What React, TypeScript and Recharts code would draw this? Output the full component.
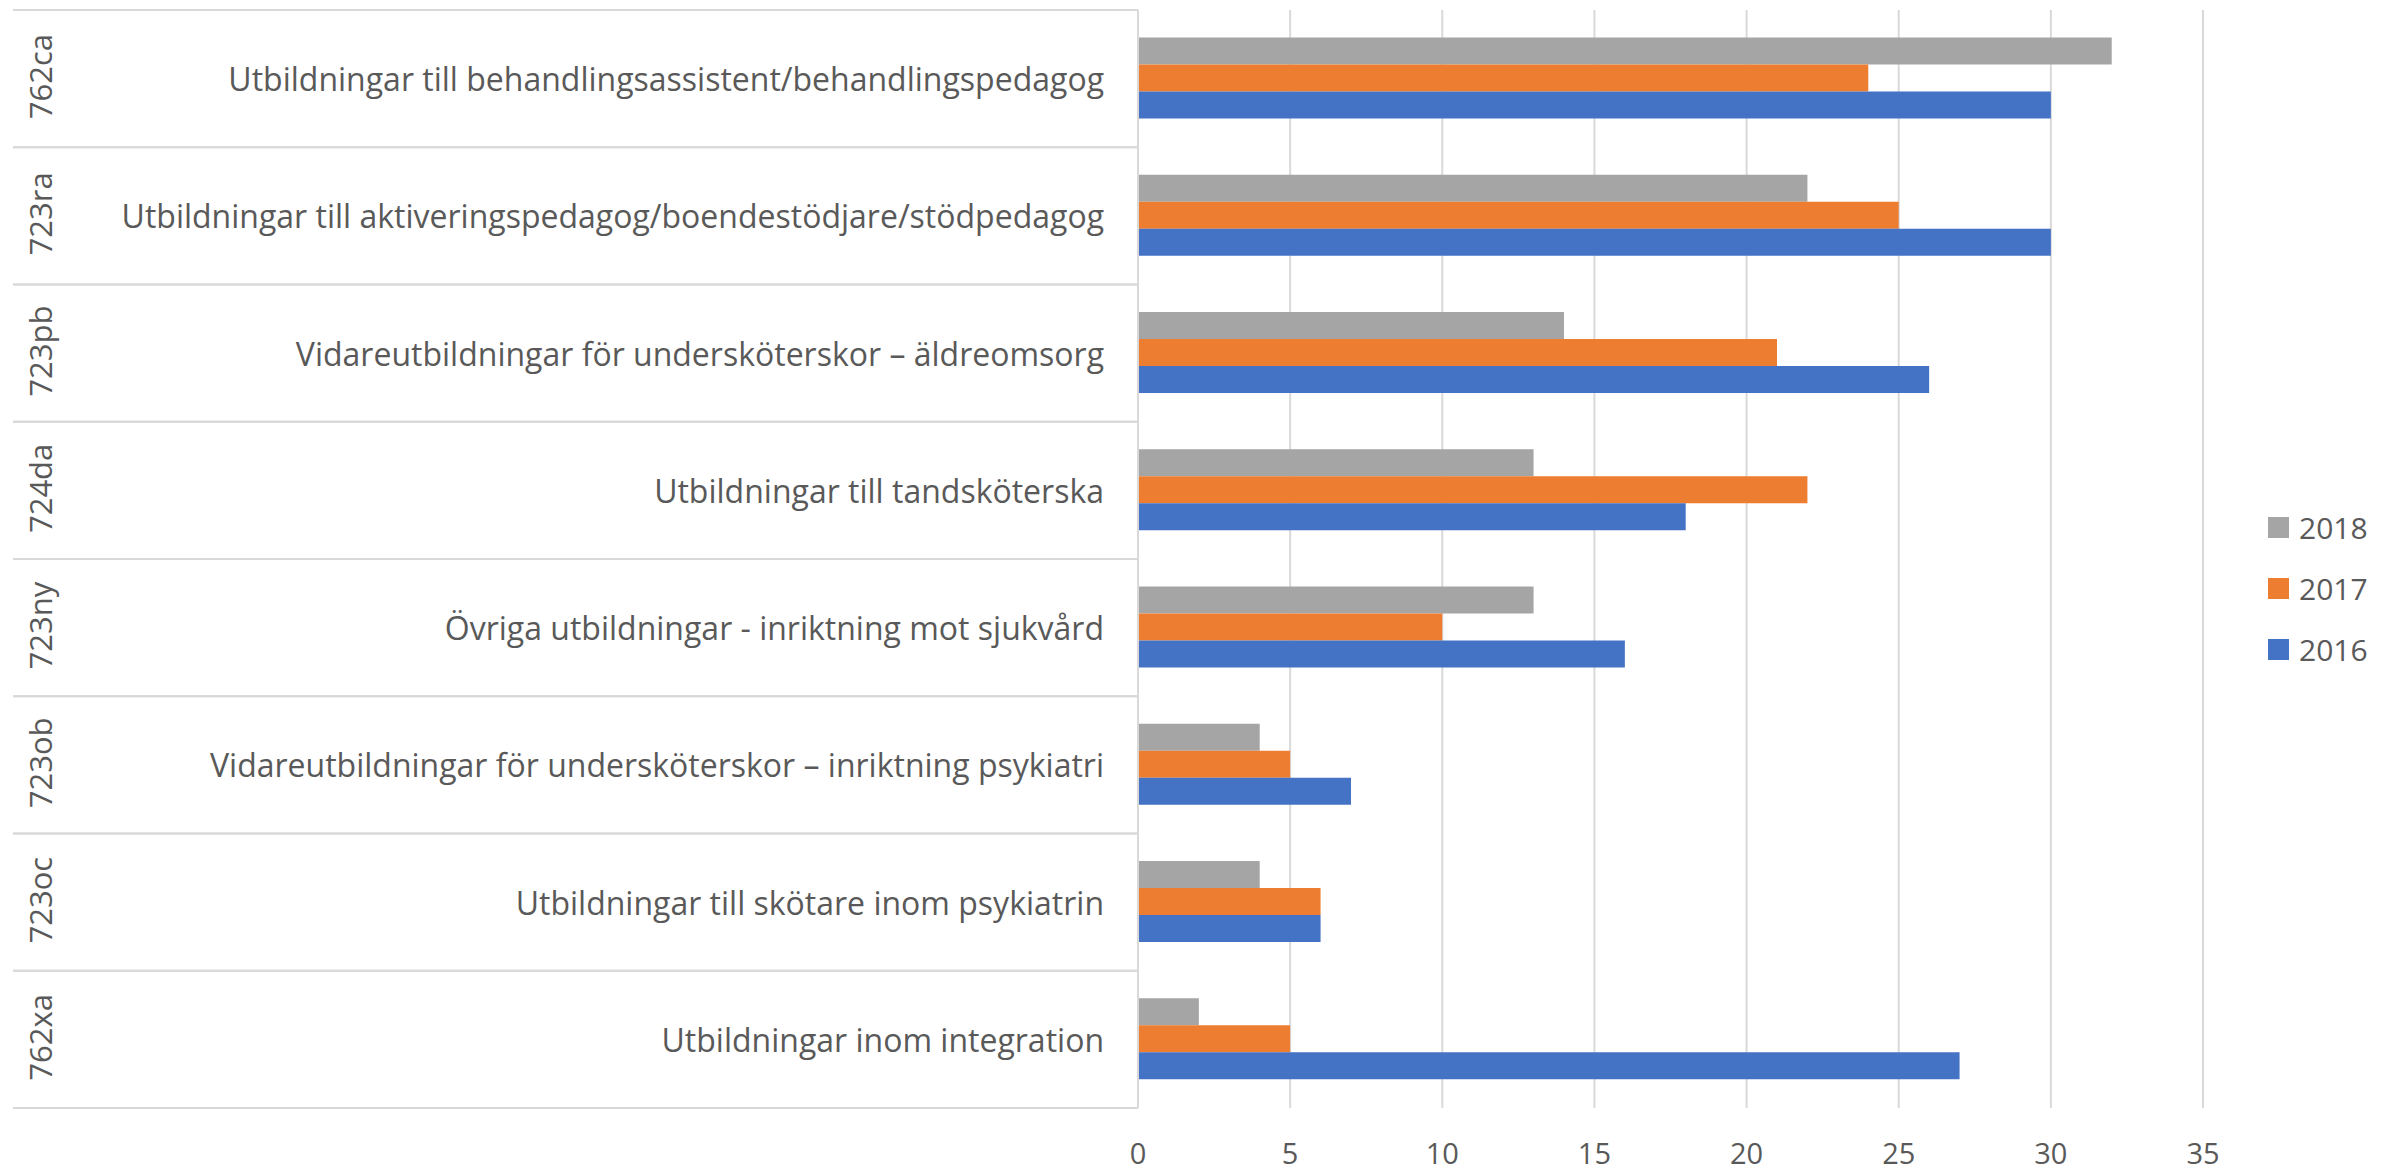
import { BarChart, Bar, XAxis, YAxis, CartesianGrid, Legend } from "recharts";

const codes = ["762ca", "723ra", "723pb", "724da", "723ny", "723ob", "723oc", "762xa"];
const labels = [
  "Utbildningar till behandlingsassistent/behandlingspedagog",
  "Utbildningar till aktiveringspedagog/boendestödjare/stödpedagog",
  "Vidareutbildningar för undersköterskor – äldreomsorg",
  "Utbildningar till tandsköterska",
  "Övriga utbildningar - inriktning mot sjukvård",
  "Vidareutbildningar för undersköterskor – inriktning psykiatri",
  "Utbildningar till skötare inom psykiatrin",
  "Utbildningar inom integration",
];
const values2018 = [32, 22, 14, 13, 13, 4, 4, 2];
const values2017 = [24, 25, 21, 22, 10, 5, 6, 5];
const values2016 = [30, 30, 26, 18, 16, 7, 6, 27];
const xTicks = [0, 5, 10, 15, 20, 25, 30, 35];

const series = [
  { key: "2018", color: "#A5A5A5" },
  { key: "2017", color: "#ED7D31" },
  { key: "2016", color: "#4472C4" },
];

const data = codes.map((code, i) => ({
  code,
  label: labels[i],
  "2018": values2018[i],
  "2017": values2017[i],
  "2016": values2016[i],
}));

const PLOT_TOP = 10;
const PLOT_BOTTOM = 1108;
const BAND = (PLOT_BOTTOM - PLOT_TOP) / codes.length;
const TEXT = "#595959";
const LINE = "#D9D9D9";
const FONT = "'Open Sans', sans-serif";

function CategoryTick(props: any) {
  const { x, y, index } = props;
  const row = data[index];
  return (
    <g>
      <line x1={13} x2={x} y1={y - BAND / 2} y2={y - BAND / 2} stroke={LINE} strokeWidth={2} />
      <line x1={13} x2={x} y1={y + BAND / 2} y2={y + BAND / 2} stroke={LINE} strokeWidth={2} />
      <text
        x={40}
        y={y - 2}
        transform={`rotate(-90, 40, ${y - 2})`}
        textAnchor="middle"
        dominantBaseline="central"
        fill={TEXT}
        fontFamily={FONT}
        fontSize={31}
      >
        {row.code}
      </text>
      <text x={x - 34} y={y} textAnchor="end" dominantBaseline="central" fill={TEXT} fontFamily={FONT} fontSize={32}>
        {row.label}
      </text>
    </g>
  );
}

function ValueTick(props: any) {
  const { x, y, payload } = props;
  return (
    <text x={x} y={y + 44} textAnchor="middle" dominantBaseline="central" fill={TEXT} fontFamily={FONT} fontSize={29}>
      {payload.value}
    </text>
  );
}

function LegendBox() {
  return (
    <div style={{ fontFamily: FONT, fontSize: 30, color: TEXT }}>
      {series.map((s) => (
        <div key={s.key} style={{ display: "flex", alignItems: "center", height: 61 }}>
          <span style={{ width: 21, height: 21, background: s.color, marginRight: 10, display: "inline-block" }} />
          <span>{s.key}</span>
        </div>
      ))}
    </div>
  );
}

export default function App() {
  return (
    <div style={{ position: "absolute", left: 0, top: 0, background: "#fff" }}>
      <BarChart
        width={2402}
        height={1173}
        data={data}
        layout="vertical"
        margin={{ top: PLOT_TOP, right: 199, bottom: 0, left: 0 }}
        barCategoryGap="20%"
        barGap={0}
      >
        <CartesianGrid horizontal={false} stroke={LINE} strokeWidth={2} />
        <XAxis
          type="number"
          domain={[0, 35]}
          ticks={xTicks}
          height={65}
          axisLine={false}
          tickLine={false}
          tickSize={0}
          tickMargin={0}
          tick={<ValueTick />}
          interval={0}
        />
        <YAxis
          type="category"
          dataKey="code"
          width={1138}
          axisLine={{ stroke: LINE, strokeWidth: 2 }}
          tickLine={false}
          tickSize={0}
          tickMargin={0}
          tick={<CategoryTick />}
          interval={0}
        />
        <Legend
          layout="horizontal"
          verticalAlign="middle"
          align="center"
          content={<LegendBox />}
          wrapperStyle={{ position: "absolute", left: 2268, top: 497, width: "auto" }}
        />
        {series.map((s) => (
          <Bar key={s.key} dataKey={s.key} fill={s.color} isAnimationActive={false} />
        ))}
      </BarChart>
    </div>
  );
}
